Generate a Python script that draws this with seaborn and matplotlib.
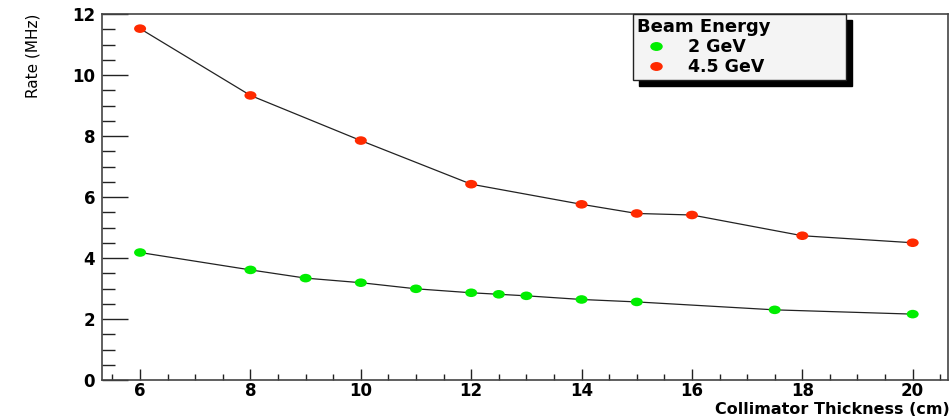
import matplotlib
matplotlib.use("Agg")
import matplotlib.pyplot as plt
import seaborn as sns
import pandas as pd
from matplotlib.ticker import MultipleLocator
from matplotlib.lines import Line2D
from matplotlib.path import Path
from matplotlib.transforms import Affine2D

x_2gev = [6, 8, 9, 10, 11, 12, 12.5, 13, 14, 15, 17.5, 20]
rate_2gev = [4.18, 3.61, 3.34, 3.19, 2.99, 2.86, 2.81, 2.76, 2.64, 2.56, 2.30, 2.16]
x_45gev = [6, 8, 10, 12, 14, 15, 16, 18, 20]
rate_45gev = [11.52, 9.33, 7.85, 6.42, 5.76, 5.46, 5.41, 4.73, 4.50]
series_labels = ["2 GeV", "4.5 GeV"]
series_colors = ["#00ee00", "#ff2a00"]

df = pd.concat([
    pd.DataFrame({"x": x_2gev, "rate": rate_2gev, "energy": series_labels[0]}),
    pd.DataFrame({"x": x_45gev, "rate": rate_45gev, "energy": series_labels[1]}),
])

sns.set_style("white")
plt.rcParams['font.family'] = ['DejaVu Sans']
plt.rcParams['text.color'] = 'black'
plt.rcParams['xtick.labelcolor'] = 'black'
plt.rcParams['ytick.labelcolor'] = 'black'

ellipse = Path.unit_circle().transformed(Affine2D().scale(1.4, 1.0))

fig = plt.figure(figsize=(9.51, 4.18), dpi=100)
ax = fig.add_axes([102/951, 38/418, 846/951, 366/418])

for lab in series_labels:
    sub = df[df.energy == lab]
    sns.lineplot(data=sub, x="x", y="rate", ax=ax, color="#222222", lw=0.9,
                 legend=False, sort=False)
sns.scatterplot(data=df, x="x", y="rate", hue="energy", palette=dict(zip(series_labels, series_colors)),
                ax=ax, s=75, marker=ellipse, edgecolor="none", legend=False, zorder=3)

ax.set_xlim(5.31, 20.64)
ax.set_ylim(0, 12)
ax.xaxis.set_major_locator(MultipleLocator(2))
ax.xaxis.set_minor_locator(MultipleLocator(0.5))
ax.yaxis.set_major_locator(MultipleLocator(2))
ax.yaxis.set_minor_locator(MultipleLocator(0.5))
ax.tick_params(axis="y", which="major", direction="in", length=19, width=1, color="#222222", pad=5)
ax.tick_params(axis="y", which="minor", direction="in", length=9.5, width=1, color="#222222")
ax.tick_params(axis="x", which="major", direction="in", length=8, width=1, color="#222222", pad=1.5)
ax.tick_params(axis="x", which="minor", direction="in", length=4, width=1, color="#222222")
ax.tick_params(axis="both", which="both", left=True, bottom=True, right=False, top=False)
for lbl in ax.get_xticklabels() + ax.get_yticklabels():
    lbl.set_fontweight("bold")
    lbl.set_fontsize(12)
for sp in ax.spines.values():
    sp.set_visible(True)
    sp.set_color("#444444")
    sp.set_linewidth(1.2)

ax.set_xlabel("")
ax.set_ylabel("")
fig.text(950/951, 0.5/418, "Collimator Thickness (cm)", ha="right", va="bottom",
         fontsize=11.5, fontweight="bold")
fig.text(33/951, 1 - 14/418, "Rate (MHz)", rotation=90, ha="center", va="top", fontsize=11)

handles = [Line2D([], [], ls="none", marker=ellipse, markersize=9, markerfacecolor=c,
                  markeredgecolor="none") for c in series_colors]
leg = ax.legend(handles, series_labels, title="Beam Energy", loc="upper left",
                bbox_to_anchor=((633-102)/846, 1 - 68/366, 213/846, 68/366), mode="expand",
                borderaxespad=0, frameon=True,
                fancybox=False, shadow={"ox": 4.3, "oy": -4.3, "color": "black", "alpha": 1},
                prop={"size": 12.5, "weight": "bold"}, handletextpad=0.8, labelspacing=0.1,
                borderpad=0.25, handlelength=2.1, alignment="left")
leg.get_title().set_fontweight("bold")
leg.get_title().set_fontsize(13)
frame = leg.get_frame()
frame.set_facecolor("#f4f4f4")
frame.set_edgecolor("#222222")
frame.set_linewidth(1)
frame.set_alpha(1)

fig.savefig("out.png", dpi=100)
